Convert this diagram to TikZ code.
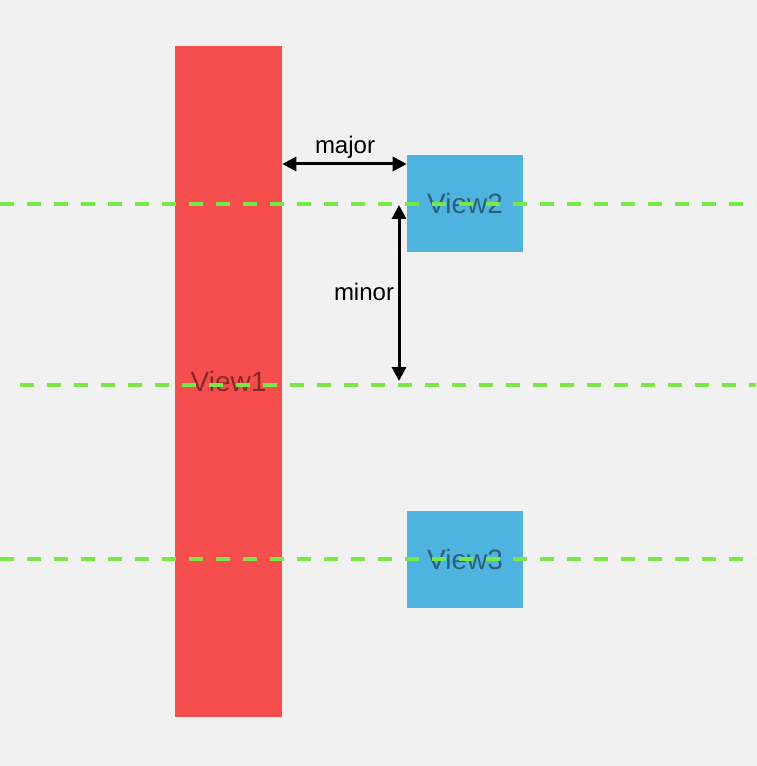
\documentclass[tikz,border=0pt]{standalone}
\usepackage{fontspec}
\setmainfont{Liberation Sans}
\usetikzlibrary{arrows.meta, positioning}
\definecolor{canvas}{HTML}{F1F1F1}
\definecolor{viewred}{HTML}{F54E4C}
\definecolor{viewblue}{HTML}{4EB3DE}
\definecolor{guide}{HTML}{77E846}

\begin{document}
\begin{tikzpicture}[
  x=0.75pt, y=-0.75pt,
  view/.style={inner sep=0pt, text opacity=0.45, font=\fontsize{21}{25}\selectfont},
  bigview/.style={view, fill=viewred, minimum width=80.25pt, minimum height=503.25pt},
  smallview/.style={view, fill=viewblue, minimum width=87pt, minimum height=72.75pt},
  guideline/.style={guide, line width=2.8pt, dash pattern=on 10.5pt off 9.75pt},
  arr/.style={{Triangle[length=10.5pt, width=10.5pt]}-{Triangle[length=10.5pt, width=10.5pt]}, line width=2.25pt},
  lbl/.style={inner sep=0pt, font=\fontsize{18}{22}\selectfont},
]

\useasboundingbox (0,0) rectangle (756,766);
\fill[canvas] (-5,-5) rectangle (761,771);

\node[bigview] (view1) at (228.5,381.5) {View1};
\node[smallview] (view2) at (465,203.5) {View2};
\node[smallview] (view3) at (465,559.5) {View3};

% guide lines through the centres
\coordinate (g1a) at (0,204);   \coordinate (g1b) at (756,204);
\coordinate (g2a) at (20,385);  \coordinate (g2b) at (756,385);
\coordinate (g3a) at (0,559);   \coordinate (g3b) at (756,559);
\draw[guideline] (g1a) -- (g1b);
\draw[guideline] (g2a) -- (g2b);
\draw[guideline] (g3a) -- (g3b);

% spacing arrows
\coordinate (majrow) at (0,164);
\draw[arr] (view1.east |- majrow) -- (view2.west |- majrow);
\node[lbl] (major) at (345,147) {major};

\coordinate (mintop) at (399,205);
\coordinate (minbot) at (399,381);
\draw[arr] (mintop) -- (minbot);
\node[lbl] (minor) at (364,292) {minor};

\end{tikzpicture}
\end{document}
